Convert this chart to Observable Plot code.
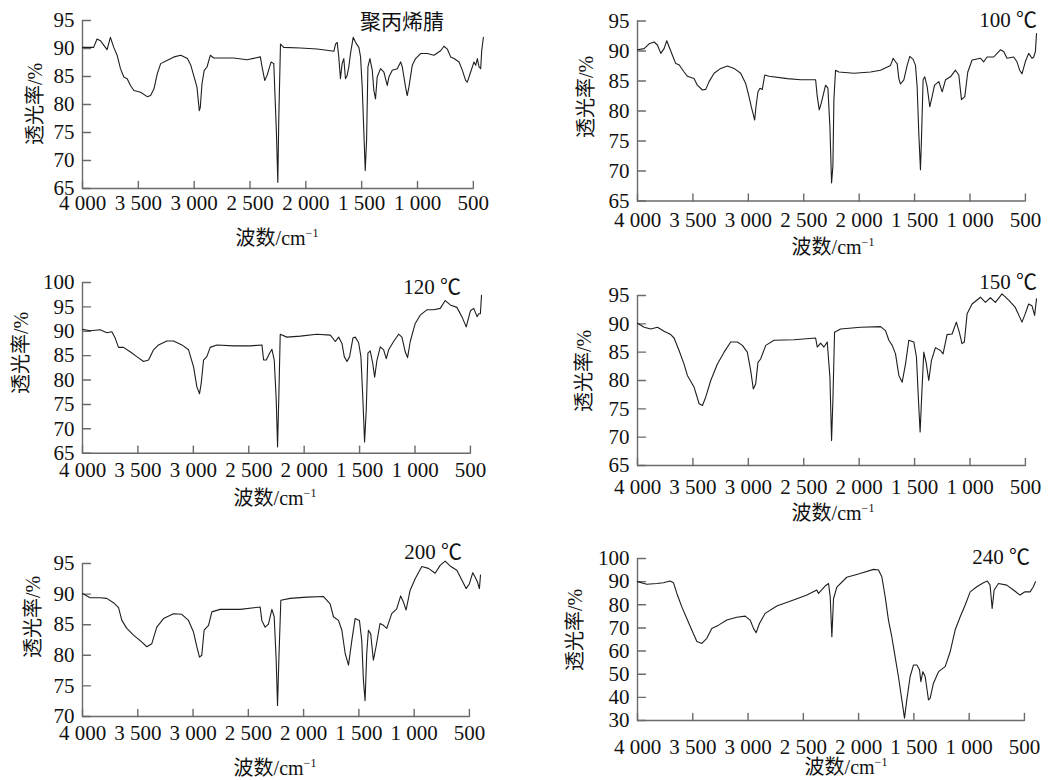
<!DOCTYPE html>
<html><head><meta charset="utf-8">
<script src="https://cdn.jsdelivr.net/npm/d3@7"></script>
<script src="https://cdn.jsdelivr.net/npm/@observablehq/plot@0.6"></script>
<style>
body{margin:0;background:#fff;}
#chart{position:relative;width:1052px;height:780px;overflow:hidden;background:#fff;}
.cell{position:absolute;}
.lbl{position:absolute;white-space:nowrap;font-size:20px;color:#111;line-height:1;
  font-family:"Liberation Serif","Noto Sans CJK SC",serif;transform:translate(-50%,-50%);}
.lbl sup{font-size:12px;vertical-align:0;position:relative;top:-8px;}
.rot{transform:translate(-50%,-50%) rotate(-90deg);}
.ttl{font-size:21px;}
</style></head><body><div id="chart"></div><script>
// ---------- data (wavenumber cm^-1, transmittance %) ----------
const xTicks = [4000, 3500, 3000, 2500, 2000, 1500, 1000, 500];
const xTickLabels = ["4 000", "3 500", "3 000", "2 500", "2 000", "1 500", "1 000", "500"];
const titles = ["聚丙烯腈", "100 ℃", "120 ℃", "150 ℃", "200 ℃", "240 ℃"];
const yLabel = "透光率/%";
const yDomains = [[65, 95], [65, 95], [65, 100], [65, 95], [70, 95], [30, 100]];
const yTickSets = [
  [65, 70, 75, 80, 85, 90, 95],
  [65, 70, 75, 80, 85, 90, 95],
  [65, 70, 75, 80, 85, 90, 95, 100],
  [65, 70, 75, 80, 85, 90, 95],
  [70, 75, 80, 85, 90, 95],
  [30, 40, 50, 60, 70, 80, 90, 100]
];

const wnPAN = [4000,3900,3870,3840,3780,3750,3720,3690,3660,3630,3600,3570,3540,3480,3420,3390,3360,3330,3300,3240,3180,3120,3060,3030,3000,2975,2954,2945,2930,2910,2885,2855,2825,2646,2527,2407,2392,2368,2347,2311,2287,2263,2251,2242,2227,2198,2048,1899,1779,1749,1734,1719,1705,1690,1675,1660,1645,1630,1615,1600,1576,1555,1525,1510,1495,1480,1468,1456,1444,1426,1405,1391,1376,1361,1331,1301,1271,1256,1226,1181,1151,1136,1107,1092,1077,1047,1017,972,912,853,793,763,733,703,673,628,598,569,554,524,494,479,464,449,434,425,410];
const tPAN = [90.2,90.2,91.7,91.4,89.8,92.0,90.2,88.8,86.4,84.9,84.6,83.4,82.5,82.2,81.4,81.6,82.8,85.5,87.3,87.9,88.5,88.8,88.2,87.0,84.9,83.1,78.9,79.5,83.7,86.1,86.7,88.8,88.3,88.3,88.0,88.5,86.7,84.3,85.2,87.6,87.3,74.8,66.1,77.7,90.8,90.2,90.1,89.9,89.6,89.5,90.8,91.1,88.5,84.6,87.3,88.2,84.6,85.2,86.7,89.1,92.0,91.1,90.2,88.5,83.1,74.8,68.2,73.6,86.7,88.2,86.1,82.5,81.0,84.9,86.4,85.8,83.4,84.9,86.1,86.4,87.6,86.7,83.1,81.6,83.1,87.0,88.2,89.1,89.1,88.8,89.6,90.4,89.9,88.5,88.2,87.6,86.1,84.3,84.0,85.8,87.6,87.0,88.2,86.7,86.4,89.6,92.0];

const wn100 = [4000,3940,3895,3850,3820,3790,3760,3736,3715,3685,3655,3625,3580,3550,3490,3460,3414,3384,3354,3309,3249,3189,3129,3069,3024,2994,2973,2958,2943,2931,2913,2895,2874,2852,2813,2648,2528,2393,2378,2360,2342,2303,2282,2264,2249,2237,2228,2213,2183,2047,1897,1807,1717,1693,1672,1657,1642,1627,1597,1567,1543,1513,1492,1477,1462,1447,1438,1423,1408,1387,1363,1342,1320,1281,1251,1221,1176,1131,1101,1077,1047,1020,981,906,876,846,786,726,696,666,606,576,552,531,501,471,440,425,410,400];
const t100 = [90.2,90.4,91.2,91.5,91.0,89.6,90.4,91.7,90.7,89.3,87.9,87.7,86.5,85.8,85.4,84.3,83.5,83.6,84.9,86.3,87.1,87.5,87.1,86.3,84.6,82.4,80.7,79.6,78.5,80.7,83.2,83.8,83.6,86.0,85.8,85.4,85.2,85.2,82.4,80.2,81.3,84.3,83.8,77.4,68.0,70.8,81.9,86.8,86.5,86.3,86.5,86.8,87.6,88.8,88.2,87.9,85.4,84.5,85.2,87.6,89.1,88.6,87.6,84.1,76.3,70.2,75.2,85.2,85.7,84.1,80.7,82.4,84.3,84.9,83.2,85.2,85.7,86.8,86.0,81.9,82.4,86.5,88.5,88.8,88.2,89.0,89.0,90.2,89.9,88.8,89.0,88.2,86.8,86.2,88.2,89.6,88.8,89.0,89.9,92.9];

const wn120 = [4000,3931,3841,3780,3735,3705,3675,3630,3570,3510,3449,3404,3359,3314,3239,3179,3103,3043,2998,2968,2944,2929,2908,2878,2848,2787,2637,2487,2381,2366,2342,2312,2291,2270,2252,2240,2228,2216,2156,2035,1885,1764,1719,1689,1659,1638,1614,1590,1560,1539,1509,1488,1470,1455,1440,1425,1404,1382,1364,1343,1313,1283,1259,1238,1193,1148,1118,1088,1067,1043,998,953,893,832,772,727,682,622,577,538,500,470,440,425,410,400];
const t120 = [90.4,90.1,90.3,89.7,89.9,88.6,86.7,86.7,85.8,84.8,83.8,84.1,86.2,87.2,88.0,88.0,87.2,86.2,82.7,78.6,77.2,79.3,84.1,84.8,86.7,87.2,87.0,87.0,87.2,84.1,84.1,85.5,86.3,84.1,75.9,66.3,77.2,89.4,88.8,89.0,89.4,89.2,87.9,88.8,87.5,84.8,83.8,84.8,88.6,88.8,87.7,84.8,75.9,67.3,73.8,85.5,86.0,83.5,80.6,84.1,86.8,86.2,84.4,86.2,87.9,89.4,88.8,85.8,84.6,87.9,91.6,93.3,94.4,94.4,94.7,96.3,95.4,94.9,93.0,90.9,94.2,94.7,93.0,93.6,93.6,97.4];

const wn150 = [4000,3940,3880,3820,3760,3700,3670,3625,3580,3550,3489,3444,3414,3384,3339,3279,3219,3159,3099,3054,3009,2979,2955,2934,2913,2889,2843,2768,2588,2393,2378,2348,2318,2288,2264,2249,2237,2222,2168,1987,1807,1762,1732,1702,1672,1642,1612,1582,1552,1507,1483,1465,1450,1435,1417,1396,1372,1348,1312,1267,1243,1207,1162,1123,1096,1072,1051,1026,981,906,861,816,771,711,651,591,531,501,471,441,417,400];
const t150 = [90.1,89.4,89.1,89.4,88.7,88.1,87.5,85.3,82.9,80.9,78.8,75.9,75.6,77.1,80.0,82.9,85.0,86.8,86.8,86.2,85.0,81.8,78.5,79.4,83.2,83.8,86.2,87.1,87.2,87.5,85.9,86.6,85.9,86.8,80.6,69.4,76.5,88.5,89.1,89.4,89.5,88.8,87.1,86.2,84.7,80.9,79.7,82.9,87.1,86.8,84.1,76.5,70.9,77.6,85.0,83.2,80.0,83.5,85.8,85.3,84.7,88.1,88.2,90.3,88.5,86.5,86.8,91.8,93.5,94.7,93.8,94.6,93.8,95.3,94.2,92.9,90.3,91.8,93.5,93.2,91.5,94.4];

const wn200 = [4000,3931,3840,3780,3720,3674,3644,3599,3539,3478,3418,3373,3328,3267,3177,3102,3041,2996,2966,2942,2921,2900,2860,2830,2755,2574,2393,2378,2348,2318,2287,2266,2248,2236,2224,2206,2122,1971,1820,1760,1730,1685,1654,1624,1594,1564,1534,1495,1474,1459,1444,1429,1414,1393,1369,1345,1309,1278,1248,1203,1158,1122,1097,1073,1037,991,931,871,810,765,720,675,614,569,530,500,470,449,428,410,400];
const t200 = [90.1,89.4,89.4,89.3,88.6,87.8,85.7,84.4,83.3,82.4,81.4,81.9,84.6,86.0,86.8,86.7,85.7,83.8,81.4,79.7,80.0,84.1,84.9,87.1,87.5,87.5,87.9,85.7,84.6,85.1,87.5,86.3,79.2,71.8,79.2,89.0,89.3,89.5,89.6,88.4,86.3,85.7,84.1,80.3,78.4,82.4,86.0,85.7,82.4,75.9,72.6,80.3,84.1,83.5,79.2,81.4,85.2,84.9,84.4,86.8,87.6,89.7,88.7,87.4,90.6,92.5,94.5,94.2,93.4,94.7,95.4,94.6,93.9,92.3,90.9,91.7,93.5,92.8,92.0,90.9,93.1];

const wn240 = [4000,3916,3825,3765,3705,3674,3644,3599,3554,3509,3463,3418,3373,3328,3267,3192,3102,3026,2981,2951,2927,2897,2845,2740,2589,2468,2378,2363,2303,2272,2257,2242,2227,2197,2107,1986,1865,1820,1790,1760,1730,1700,1670,1640,1609,1585,1564,1534,1503,1473,1449,1437,1419,1398,1368,1353,1323,1277,1217,1172,1127,1081,1036,991,931,871,835,811,792,774,735,660,600,540,495,449,419,400];
const t240 = [90.0,88.9,89.2,89.5,90.3,89.5,84.9,79.1,74.1,69.1,64.1,63.3,65.5,69.8,71.2,73.4,74.6,75.1,73.4,69.8,67.9,71.9,76.3,79.5,82.1,84.2,86.4,84.9,88.1,89.2,83.5,66.2,82.6,87.6,91.9,93.5,95.3,95.0,92.1,83.5,73.4,66.2,57.6,49.0,38.9,31.0,38.9,49.0,54.0,54.0,51.9,46.8,51.1,49.0,38.9,39.6,46.1,51.1,53.3,59.7,69.1,74.8,79.9,85.6,87.8,89.5,90.3,88.5,78.4,86.4,89.2,88.5,86.4,84.2,85.6,85.6,87.8,90.0];

const series = [[wnPAN, tPAN], [wn100, t100], [wn120, t120], [wn150, t150], [wn200, t200], [wn240, t240]];

// ---------- layout ----------
const CW = 526, CH = 260;
const layout = [
  {left: 0,   top: 0,   x0: 82,  x1: 484, y0: 20,  y1: 188, gap: 15, xl: [277, 238], yl: [35, 104],  tt: [402, 22]},
  {left: 526, top: 0,   x0: 637, x1: 1036, y0: 20.5, y1: 200.5, gap: 19, xl: [833, 247], yl: [586, 97], tt: [1008, 20]},
  {left: 0,   top: 260, x0: 82,  x1: 481, y0: 282, y1: 452.7, gap: 17, xl: [275, 498], yl: [21, 353], tt: [432, 287]},
  {left: 526, top: 260, x0: 637, x1: 1036, y0: 295, y1: 465, gap: 22, xl: [833, 513], yl: [584, 371], tt: [1008, 282]},
  {left: 0,   top: 520, x0: 82,  x1: 480, y0: 563, y1: 716, gap: 17, xl: [275, 768], yl: [33, 617], tt: [433, 552]},
  {left: 526, top: 520, x0: 637, x1: 1035, y0: 558, y1: 720, gap: 27, xl: [846, 767], yl: [575, 630], tt: [1001, 557]}
];

const axisColor = "#6a6a6a";
const tickUp = {draw(ctx, l) { ctx.moveTo(0, 0); ctx.lineTo(0, -l); }};
const tickRight = {draw(ctx, l) { ctx.moveTo(0, 0); ctx.lineTo(l, 0); }};
const chart = document.getElementById("chart");

series.forEach(([wn, t], k) => {
  const L = layout[k];
  const data = wn.map((w, i) => ({wn: w, t: t[i]}));
  const yd = yDomains[k];
  const svg = Plot.plot({
    width: CW, height: CH,
    marginLeft: L.x0 - L.left,
    marginRight: L.left + CW - L.x1,
    marginTop: L.y0 - L.top,
    marginBottom: L.top + CH - L.y1,
    x: {domain: [4000, 400], axis: null, label: null},
    y: {domain: yd, axis: null, label: null},
    style: {fontFamily: "'Liberation Serif','Times New Roman',serif", fontSize: "21px", color: "#111", background: "transparent", overflow: "visible"},
    marks: [
      Plot.ruleX([4000], {stroke: axisColor, strokeWidth: 1.4}),
      Plot.ruleY([yd[0]], {x1: 4000, x2: 500, stroke: axisColor, strokeWidth: 1.4}),
      Plot.vector(xTicks, {x: d => d, frameAnchor: "bottom", length: 7, anchor: "start", shape: tickUp, stroke: axisColor, strokeWidth: 1.4}),
      Plot.vector(yTickSets[k], {y: d => d, frameAnchor: "left", length: 8, anchor: "start", shape: tickRight, stroke: axisColor, strokeWidth: 1.4}),
      Plot.axisX(xTicks, {anchor: "bottom", tickSize: 0, tickPadding: L.gap - 8, label: null, fill: "#111",
        tickFormat: d => xTickLabels[xTicks.indexOf(d)]}),
      Plot.axisY(yTickSets[k], {anchor: "left", tickSize: 0, tickPadding: 8, label: null, fill: "#111", tickFormat: d => String(d)}),
      Plot.line(data, {x: "wn", y: "t", stroke: "#1e1e1e", strokeWidth: 1.1})
    ]
  });
  svg.classList.add("cell");
  svg.style.left = L.left + "px";
  svg.style.top = L.top + "px";
  chart.appendChild(svg);

  const xl = document.createElement("div");
  xl.className = "lbl";
  xl.innerHTML = "波数/cm<sup>−1</sup>";
  xl.style.left = L.xl[0] + "px"; xl.style.top = L.xl[1] + "px";
  chart.appendChild(xl);

  const yl = document.createElement("div");
  yl.className = "lbl rot";
  yl.textContent = yLabel;
  yl.style.left = L.yl[0] + "px"; yl.style.top = L.yl[1] + "px";
  chart.appendChild(yl);

  const tt = document.createElement("div");
  tt.className = "lbl ttl";
  tt.textContent = titles[k];
  tt.style.left = L.tt[0] + "px"; tt.style.top = L.tt[1] + "px";
  chart.appendChild(tt);
});
</script></body></html>
